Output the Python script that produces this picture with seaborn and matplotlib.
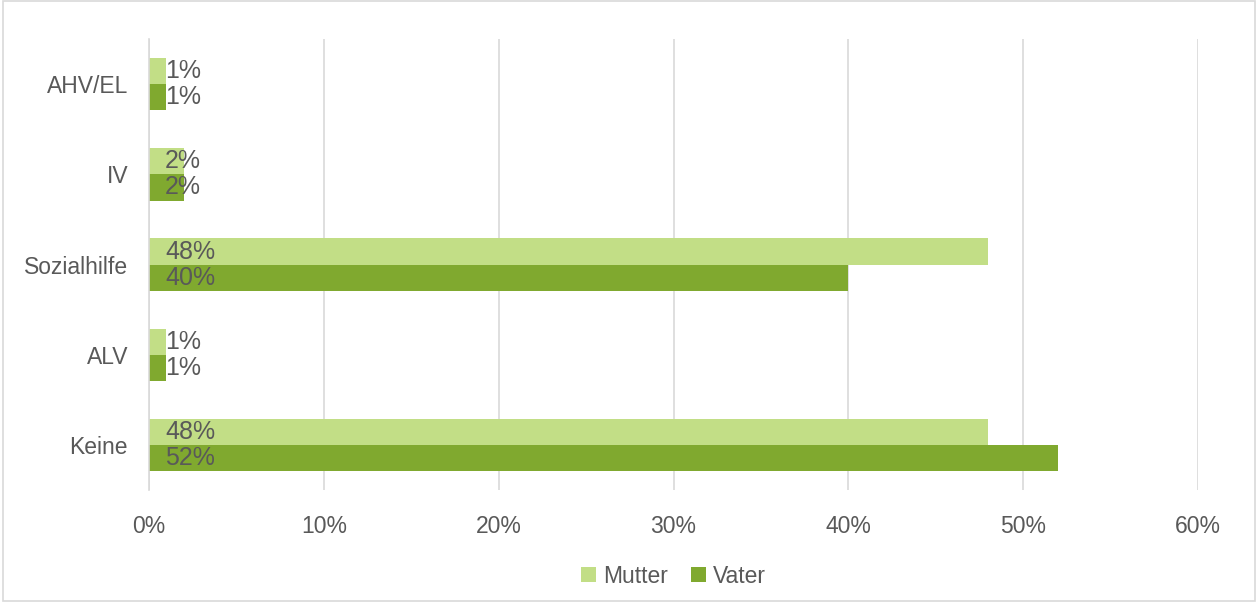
import pandas as pd
import matplotlib.pyplot as plt
import seaborn as sns
from matplotlib.patches import Rectangle

# Daten
kategorien = ['AHV/EL', 'IV', 'Sozialhilfe', 'ALV', 'Keine']
mutter = [1, 2, 48, 1, 48]
vater = [1, 2, 40, 1, 52]
x_ticks = [0, 10, 20, 30, 40, 50, 60]

df = pd.DataFrame({
    'kategorie': kategorien * 2,
    'wert': mutter + vater,
    'gruppe': ['Mutter'] * len(kategorien) + ['Vater'] * len(kategorien),
})

sns.set_theme(style='white')
plt.rcParams['font.family'] = ['Liberation Sans', 'DejaVu Sans']

TEXT = '#595959'
farben = {'Mutter': '#C2DE86', 'Vater': '#80A92F'}

fig = plt.figure(figsize=(12.58, 6.02), dpi=100)
ax = fig.add_axes([0.1184, 0.186, 0.834, 0.749])

sns.barplot(data=df, x='wert', y='kategorie', hue='gruppe', order=kategorien,
            hue_order=['Mutter', 'Vater'], palette=farben, orient='h',
            width=0.58, saturation=1, linewidth=0, ax=ax)

ax.set_xlim(0, 60)
ax.set_ylim(4.5, -0.5)
ax.set_xticks(x_ticks)
ax.set_xticklabels([f'{t}%' for t in x_ticks], fontsize=16.5, color=TEXT)
ax.tick_params(axis='y', labelsize=16.5, colors=TEXT, length=0, pad=15)
ax.tick_params(axis='x', length=0, pad=18)
ax.set_xlabel('')
ax.set_ylabel('')
ax.xaxis.grid(True, color='#D9D9D9', linewidth=1.2)
ax.set_axisbelow(True)
for s in ['top', 'right', 'bottom']:
    ax.spines[s].set_visible(False)
ax.spines['left'].set_color('#D9D9D9')
ax.spines['left'].set_linewidth(1.2)

# Beschriftungen
for cont in ax.containers:
    for bar in cont:
        w = bar.get_width()
        ax.annotate(f'{w:.0f}%', (0, bar.get_y() + bar.get_height() / 2),
                    xytext=(11.5, 0), textcoords='offset points',
                    ha='left', va='center', fontsize=18, color=TEXT)

ax.legend(loc='upper center', bbox_to_anchor=(0.5, -0.12), ncol=2, frameon=False,
          fontsize=16.5, labelcolor=TEXT, handlelength=0.65, handleheight=0.65,
          handletextpad=0.3, columnspacing=1.0)

fig.patches.append(Rectangle((0.002, 0.002), 0.996, 0.996, transform=fig.transFigure,
                             fill=False, edgecolor='#D9D9D9', linewidth=1.2))

fig.savefig('out.png', dpi=100)
